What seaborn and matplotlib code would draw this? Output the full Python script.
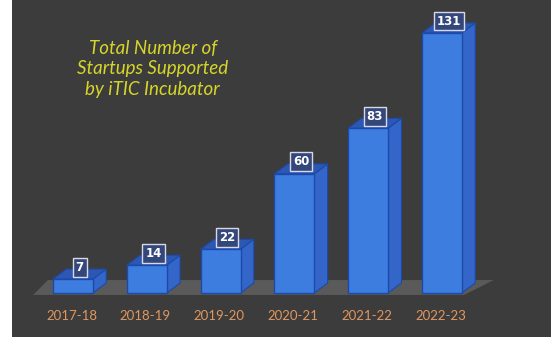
import matplotlib
matplotlib.use("Agg")
import matplotlib.pyplot as plt
import seaborn as sns
import pandas as pd
from matplotlib.patches import Polygon, Rectangle

years = ["2017-18", "2018-19", "2019-20", "2020-21", "2021-22", "2022-23"]
startups = [7, 14, 22, 60, 83, 131]
title_lines = ["Total Number of", "Startups Supported", "by iTIC Incubator"]

df = pd.DataFrame({"year": years, "startups": startups})

sns.set_theme(style="dark")
W, H = 551, 340
fig = plt.figure(figsize=(W / 100, H / 100), dpi=100, facecolor="white")

panel_bg = "#3c3c3c"
front = "#3d7de0"
side = "#3366c8"
top = "#2c58b4"
edge = "#1d4aa8"

ax = fig.add_axes([12 / W, 3 / H, 1 - 12 / W, 1 - 3 / H])
ax.set_facecolor(panel_bg)
for s in ax.spines.values():
    s.set_visible(False)

sns.barplot(data=df, x="year", y="startups", ax=ax, color=front,
            width=0.54, edgecolor=edge, linewidth=1.0, saturation=1, zorder=3)

ax.set_xlim(-0.827, 6.477)
ax.set_ylim(-22.2, 147.6)

dx = 0.18   # depth in category units
dy = 5.0    # depth in value units

# floor
floor = Polygon([(-0.54, -1.0), (5.3, -1.0), (5.7, 6.5), (-0.34, 6.5)],
                closed=True, facecolor="#5a5a5a", edgecolor="none", zorder=1)
ax.add_patch(floor)

for p, v in zip(ax.patches[:len(startups)], startups):
    if not isinstance(p, Rectangle):
        continue
    x0 = p.get_x()
    w = p.get_width()
    h = p.get_height()
    x1 = x0 + w
    sidep = Polygon([(x1, 0), (x1 + dx, dy), (x1 + dx, h + dy), (x1, h)],
                    closed=True, facecolor=side, edgecolor=edge, lw=0.8, zorder=2.9)
    topp = Polygon([(x0, h), (x0 + dx, h + dy), (x1 + dx, h + dy), (x1, h)],
                   closed=True, facecolor=top, edgecolor=edge, lw=0.8, zorder=2.9)
    ax.add_patch(sidep)
    ax.add_patch(topp)
    ax.text(x0 + w / 2 + dx / 2, h + dy + 1.0, str(v), ha="center", va="center",
            color="white", fontsize=8.5, fontweight="bold", zorder=5,
            bbox=dict(boxstyle="square,pad=0.25", facecolor="#34477a",
                      edgecolor="#d8d8e8", linewidth=1.0))

ax.set_xlabel("")
ax.set_ylabel("")
ax.set_yticks([])
ax.tick_params(axis="x", length=0, pad=0, colors="#e09a66")
ax.set_xticks(range(len(years)))
ax.set_xticklabels([])
for i, lab in enumerate(years):
    ax.text(i - 0.02, -11.5, lab, ha="center", va="center", color="#e0975f",
            fontsize=9.5, family="Lato")

ax.text(1.08, 127.5, "\n".join(title_lines), ha="center", va="top",
        color="#d6d62a", fontsize=13.5, style="italic", family="Lato",
        linespacing=1.25)

fig.savefig("out.png", dpi=100, facecolor="white")
